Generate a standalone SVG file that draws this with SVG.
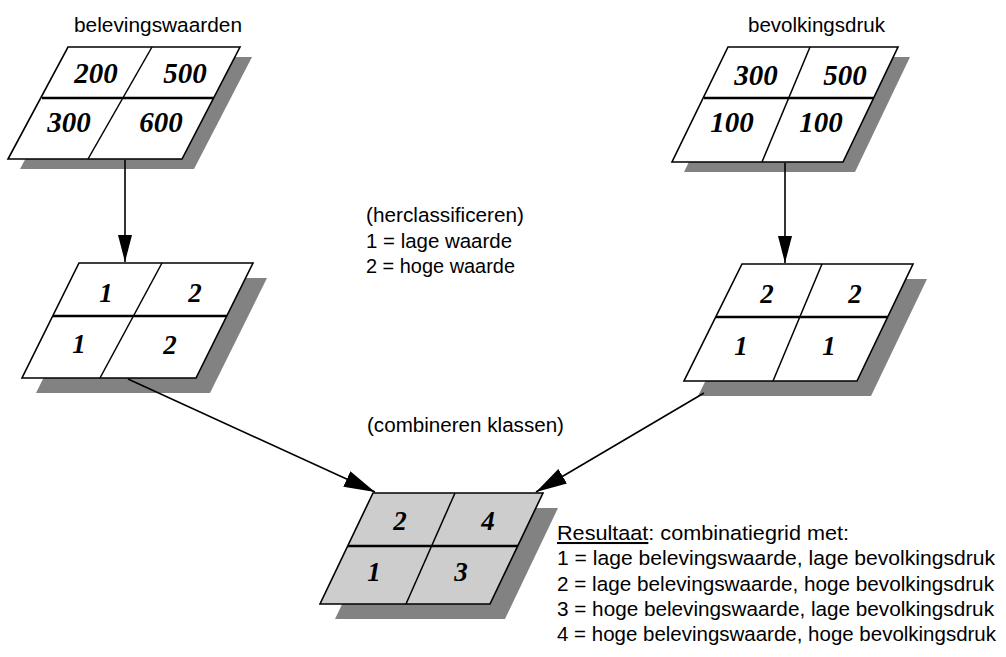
<svg xmlns="http://www.w3.org/2000/svg" width="1006" height="657" viewBox="0 0 1006 657">
  <style>
    .frame { fill: #ffffff; stroke: #000; stroke-width: 1.6; stroke-linejoin: miter; }
    .frame.result { fill: #cdcdcd; }
    .shadow { fill: #828282; }
    .div { stroke: #000; stroke-width: 1.5; fill: none; }
    .mid { stroke: #000; stroke-width: 2.4; fill: none; }
    .val { font-family: "Liberation Serif", "Times New Roman", serif; font-weight: bold; font-style: italic; text-anchor: middle; fill: #000; }
    .big { font-size: 29px; }
    .small { font-size: 27px; }
    .lbl { font-family: "Liberation Sans", Arial, sans-serif; font-size: 20.5px; fill: #000; }
    .conn { stroke: #000; stroke-width: 1.6; fill: none; }
    .down { marker-end: url(#ah); }
    .diag { marker-end: url(#ahL); }
  </style>
  <defs>
    <marker id="ah" viewBox="0 0 27 14" refX="27" refY="7" markerWidth="27" markerHeight="14" markerUnits="userSpaceOnUse" orient="auto">
      <path d="M0,0 L27,7 L0,14 z" fill="#000"/>
    </marker>
    <marker id="ahL" viewBox="0 0 31 17" refX="31" refY="8.5" markerWidth="31" markerHeight="17" markerUnits="userSpaceOnUse" orient="auto">
      <path d="M0,0 L31,8.5 L0,17 z" fill="#000"/>
    </marker>
  </defs>
  <rect width="1006" height="657" fill="#ffffff"/>

  <!-- source grid: belevingswaarden -->
  <g id="grid-beleving">
    <path class="shadow" d="M80,57 L252,57 L194,169 L20,169 z"/>
    <path class="frame" d="M68,47 L240,47 L182,159 L8,159 z"/>
    <line class="mid" x1="42" y1="98" x2="214" y2="98"/>
    <line class="div" x1="152" y1="47" x2="88" y2="159"/>
    <text class="val big" x="96" y="83">200</text>
    <text class="val big" x="185" y="83">500</text>
    <text class="val big" x="69" y="132">300</text>
    <text class="val big" x="161" y="132">600</text>
    <text class="lbl" x="74" y="32" textLength="168" lengthAdjust="spacingAndGlyphs">belevingswaarden</text>
  </g>

  <!-- source grid: bevolkingsdruk -->
  <g id="grid-bevolking">
    <path class="shadow" d="M740,57 L910,57 L855,172 L684,172 z"/>
    <path class="frame" d="M728,47 L898,47 L843,162 L672,162 z"/>
    <line class="mid" x1="704" y1="98" x2="874" y2="98"/>
    <line class="div" x1="810" y1="47" x2="762" y2="162"/>
    <text class="val big" x="756" y="85">300</text>
    <text class="val big" x="845" y="85">500</text>
    <text class="val big" x="732" y="132">100</text>
    <text class="val big" x="821" y="132">100</text>
    <text class="lbl" x="748" y="32" textLength="137" lengthAdjust="spacingAndGlyphs">bevolkingsdruk</text>
  </g>

  <!-- reclassified grid: belevingswaarden -->
  <g id="grid-beleving-klassen">
    <path class="shadow" d="M93,278 L267,278 L210,393 L36,393 z"/>
    <path class="frame" d="M79,263 L253,263 L196,378 L22,378 z"/>
    <line class="mid" x1="53" y1="316" x2="227" y2="316"/>
    <line class="div" x1="162" y1="263" x2="100" y2="378"/>
    <text class="val small" x="106" y="302">1</text>
    <text class="val small" x="195" y="302">2</text>
    <text class="val small" x="79" y="353">1</text>
    <text class="val small" x="170" y="354">2</text>
  </g>

  <!-- reclassified grid: bevolkingsdruk -->
  <g id="grid-bevolking-klassen">
    <path class="shadow" d="M756,279 L927,279 L871,396 L698,396 z"/>
    <path class="frame" d="M742,264 L913,264 L857,381 L684,381 z"/>
    <line class="mid" x1="716" y1="317" x2="888" y2="317"/>
    <line class="div" x1="822" y1="264" x2="773" y2="381"/>
    <text class="val small" x="767" y="303">2</text>
    <text class="val small" x="855" y="303">2</text>
    <text class="val small" x="741" y="355">1</text>
    <text class="val small" x="829" y="355">1</text>
  </g>

  <!-- combined result grid -->
  <g id="grid-resultaat">
    <path class="shadow" d="M388,508 L558,508 L505,619 L335,619 z"/>
    <path class="frame result" d="M373,493 L543,493 L490,604 L320,604 z"/>
    <line class="mid" x1="348" y1="546" x2="518" y2="546"/>
    <line class="div" x1="455" y1="493" x2="406" y2="604"/>
    <text class="val small" x="400" y="530">2</text>
    <text class="val small" x="488" y="530">4</text>
    <text class="val small" x="374" y="581">1</text>
    <text class="val small" x="461" y="581">3</text>
  </g>

  <!-- step labels -->
  <g id="stap-herclassificeren">
    <text class="lbl" x="366" y="222" textLength="158" lengthAdjust="spacingAndGlyphs">(herclassificeren)</text>
    <text class="lbl" x="366" y="248" textLength="146" lengthAdjust="spacingAndGlyphs">1 = lage waarde</text>
    <text class="lbl" x="366" y="273" textLength="149" lengthAdjust="spacingAndGlyphs">2 = hoge waarde</text>
  </g>
  <g id="stap-combineren">
    <text class="lbl" x="367" y="432" textLength="197" lengthAdjust="spacingAndGlyphs">(combineren klassen)</text>
  </g>

  <!-- legend of the result grid -->
  <g id="legenda">
    <text class="lbl" x="557" y="540" textLength="292" lengthAdjust="spacingAndGlyphs"><tspan style="text-decoration:underline">Resultaat</tspan>: combinatiegrid met:</text>
    <text class="lbl" x="557" y="565" textLength="438" lengthAdjust="spacingAndGlyphs">1 = lage belevingswaarde, lage bevolkingsdruk</text>
    <text class="lbl" x="557" y="591" textLength="437" lengthAdjust="spacingAndGlyphs">2 = lage belevingswaarde, hoge bevolkingsdruk</text>
    <text class="lbl" x="557" y="616" textLength="437" lengthAdjust="spacingAndGlyphs">3 = hoge belevingswaarde, lage bevolkingsdruk</text>
    <text class="lbl" x="557" y="641" textLength="439" lengthAdjust="spacingAndGlyphs">4 = hoge belevingswaarde, hoge bevolkingsdruk</text>
  </g>

  <!-- connectors -->
  <g id="connectors">
    <line class="conn down" x1="125" y1="160" x2="125" y2="262"/>
    <line class="conn down" x1="785" y1="163" x2="785" y2="263"/>
    <line class="conn diag" x1="128" y1="379" x2="375" y2="492"/>
    <line class="conn diag" x1="704" y1="393" x2="536" y2="492"/>
  </g>
</svg>
